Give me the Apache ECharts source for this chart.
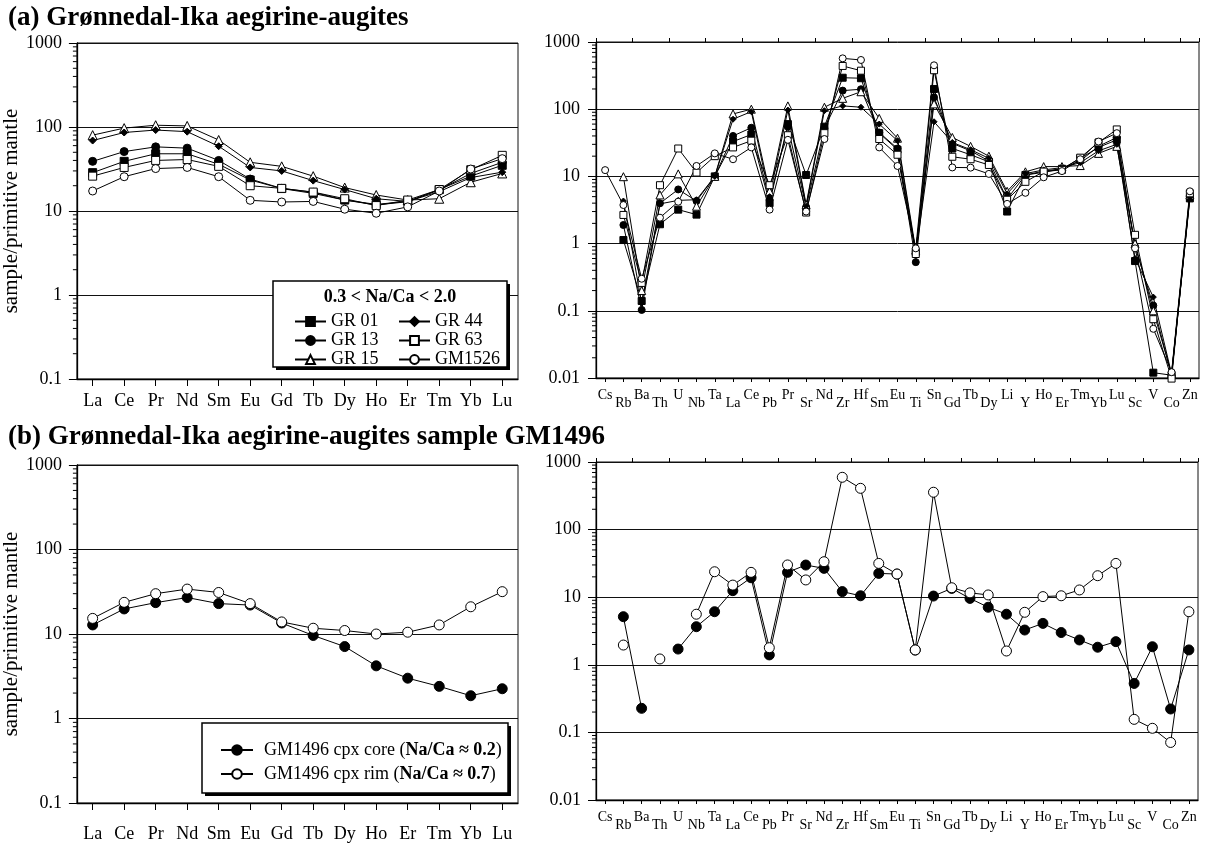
<!DOCTYPE html>
<html>
<head>
<meta charset="utf-8">
<script src="https://cdn.jsdelivr.net/npm/echarts@6/dist/echarts.min.js"></script>
<style>
  html, body { margin: 0; padding: 0; background: #fff; }
  #chart { width: 1217px; height: 845px; }
</style>
</head>
<body>
<div id="chart"></div>
<script>
// Rare earth elements (normalised to primitive mantle)
const REE = ['La','Ce','Pr','Nd','Sm','Eu','Gd','Tb','Dy','Ho','Er','Tm','Yb','Lu'];
// Extended trace element order
const TRACE = ['Cs','Rb','Ba','Th','U','Nb','Ta','La','Ce','Pb','Pr','Sr','Nd','Zr','Hf','Sm','Eu',
               'Ti','Sn','Gd','Tb','Dy','Li','Y','Ho','Er','Tm','Yb','Lu','Sc','V','Co','Zn'];

// (a) aegirine-augites, 0.3 < Na/Ca < 2.0 — REE
const GR01_REE   = [28.6, 39, 48, 48, 36, 23.4, 18.5, 16.2, 13.5, 12.0, 13.0, 18.0, 26, 35];
const GR13_REE   = [39, 51, 58, 56, 40, 24, 18.6, 16.7, 13.5, 11.8, 12.9, 17.8, 28, 38];
const GR15_REE   = [80, 97, 105, 103, 70, 38, 34, 26, 19, 15.5, 13.5, 14, 22, 28];
const GR44_REE   = [69, 86, 92, 88, 59, 33, 30, 23, 18, 14, 13, 17, 25, 29];
const GR63_REE   = [26, 33, 40, 41, 34, 20, 18.6, 16.8, 14, 11.6, 13.5, 18, 31, 46];
const GM1526_REE = [17.3, 25.6, 32, 33, 25.6, 13.4, 12.8, 13, 10.5, 9.4, 11.2, 17.3, 31.6, 42];

// (a) aegirine-augites — extended trace elements
const GR01_TR   = [null, 1.13, 0.14, 1.94, 3.2, 2.7, 10, 33, 42, 4.0, 60, 10.5, 55, 294, 289, 44, 25,
                   0.75, 200, 26, 21, 16.5, 3.0, 10.5, 11.5, 13, 18.5, 27, 35, 0.55, 0.012, 0.011, 4.7];
const GR13_TR   = [null, 1.89, 0.103, 3.98, 6.4, 4.3, 10, 40, 53, 4.5, 55, 3.5, 52, 189, 198, 45, 26,
                   0.53, 150, 31, 24, 17, 4.6, 10.5, 12, 13, 17, 28, 38, 0.9, 0.12, 0.011, 5.0];
const GR15_TR   = [null, 9.9, 0.2, 5.3, 10.9, 3.6, 10, 85, 100, 6.0, 112, 3.8, 107, 145, 182, 73, 37,
                   0.8, 120, 38, 28, 20, 6.0, 11.7, 14, 14, 14.5, 22, 28, 1.0, 0.1, 0.0115, 5.3];
const GR44_TR   = [null, 4.3, 0.13, 3.9, 4.4, 4.5, 10, 71, 92, 5.0, 97, 3.6, 95, 112, 107, 60, 34,
                   0.72, 65, 32, 25, 18.6, 5.5, 11, 12.5, 13.5, 16, 24, 30, 0.6, 0.16, 0.0115, 4.9];
const GR63_TR   = [null, 2.67, 0.26, 7.4, 26, 11.4, 20, 27, 34, 7.4, 41, 2.9, 44, 440, 374, 36, 21,
                   0.70, 380, 19.6, 18, 14.8, 4.5, 8.3, 11.8, 12.5, 19, 32, 50, 1.35, 0.075, 0.0098, 5.6];
const GM1526_TR = [12.4, 3.75, 0.30, 2.43, 4.2, 14.3, 22, 18, 27, 3.2, 35, 3.0, 36, 571, 540, 27, 14.3,
                   0.85, 450, 13.6, 13.5, 10.9, 3.9, 5.7, 9.7, 12, 18, 33, 44, 0.85, 0.054, 0.0122, 6.0];

// (b) sample GM1496, core and rim
const CORE_REE = [12.8, 19.8, 23.5, 27, 22.9, 22, 13.5, 9.6, 7.1, 4.2, 3.0, 2.4, 1.86, 2.25];
const RIM_REE  = [15.3, 23.7, 30, 34, 31, 22.9, 13.9, 11.7, 11.0, 10, 10.5, 12.8, 21, 31.7];
const CORE_TR  = [null, 5.15, 0.227, null, 1.71, 3.66, 6.1, 12.5, 19.4, 1.4, 23.3, 29.9, 26.7, 12.1, 10.5, 22.5, 22,
                  1.65, 10.4, 13.5, 9.6, 7.1, 5.6, 3.27, 4.1, 3.0, 2.33, 1.82, 2.2, 0.53, 1.85, 0.222, 1.66];
const RIM_TR   = [null, 1.96, null, 1.22, null, 5.6, 23.8, 15.1, 23.3, 1.79, 30, 18, 33.5, 594, 408, 31.6, 22,
                  1.66, 357, 13.8, 11.6, 10.8, 1.6, 5.98, 10.2, 10.5, 12.8, 20.8, 31.6, 0.156, 0.115, 0.071, 6.1];

const GM1496_NAMES = ['GM1496 cpx core', 'GM1496 cpx rim'];
const GM1496_NACA  = ['0.2', '0.7'];

// Log-axis minor tick multipliers within each decade
const MINOR = [2, 3, 4, 5, 6, 7, 8, 9];
const DECADES_A = [0.1, 1, 10, 100];
const DECADES_B = [0.01, 0.1, 1, 10, 100];

const SERIF = 'Liberation Serif';
const BLACK = '#000';

const chart = echarts.init(document.getElementById('chart'), null, { renderer: 'canvas' });

const logFmt = v => String(+Number(v).toPrecision(3));

function yLog(gridIndex, min, labelMargin, name) {
  const ax = {
    type: 'log', logBase: 10, gridIndex, min, max: 1000,
    axisLine: { show: true, lineStyle: { color: BLACK, width: 1.3 } },
    axisTick: { show: true, inside: false, length: 8, lineStyle: { color: BLACK, width: 1 } },
    axisLabel: { color: BLACK, fontFamily: SERIF, fontSize: 18, margin: labelMargin, formatter: logFmt },
    splitLine: { show: true, lineStyle: { color: '#111', width: 1 } }
  };
  if (name) {
    ax.name = name;
    ax.nameLocation = 'middle';
    ax.nameGap = 39;
    ax.nameTextStyle = { color: BLACK, fontFamily: SERIF, fontSize: 21 };
  }
  return ax;
}

function xRee(gridIndex, labelMargin) {
  return {
    type: 'category', gridIndex, data: REE, boundaryGap: true,
    axisLine: { show: true, lineStyle: { color: BLACK, width: 1.3 } },
    axisTick: { show: true, alignWithLabel: true, inside: false, length: 7, lineStyle: { color: BLACK } },
    axisLabel: { interval: 0, color: BLACK, fontFamily: SERIF, fontSize: 18, margin: labelMargin },
    splitLine: { show: false }
  };
}

function xTrace(gridIndex, labelMargin) {
  return {
    type: 'category', gridIndex, data: TRACE, boundaryGap: true,
    axisLine: { show: true, lineStyle: { color: BLACK, width: 1.3 } },
    axisTick: { show: true, alignWithLabel: true, inside: false, length: 4, lineStyle: { color: BLACK } },
    axisLabel: {
      interval: 0, color: BLACK, fontFamily: SERIF, fontSize: 14, margin: labelMargin, hideOverlap: false,
      formatter: (v, i) => (i % 2 === 0 ? '{u|' + v + '}' : '{d|' + v + '}'),
      rich: {
        u: { fontFamily: SERIF, fontSize: 14, color: BLACK, padding: [0, 0, 0, 0] },
        d: { fontFamily: SERIF, fontSize: 14, color: BLACK, padding: [8, 0, 0, 0] }
      }
    },
    splitLine: { show: false }
  };
}

// Companion axis that only adds ticks between element positions
function xTraceBetween(gridIndex) {
  return {
    type: 'category', gridIndex, data: TRACE, boundaryGap: true,
    axisLine: { show: false },
    axisTick: { show: true, alignWithLabel: false, inside: false, length: 4, lineStyle: { color: BLACK } },
    axisLabel: { show: false },
    splitLine: { show: false }
  };
}

function minorTicks(xi, yi, decades) {
  const data = [];
  decades.forEach(d => MINOR.forEach(m => data.push([0, m * d])));
  return {
    type: 'custom', xAxisIndex: xi, yAxisIndex: yi, silent: true, z: 5, clip: false,
    data, encode: { x: 0, y: 1 },
    renderItem: (params, api) => {
      const y = api.coord([0, api.value(1)])[1];
      const x = params.coordSys.x;
      return { type: 'line', shape: { x1: x - 4, y1: y, x2: x, y2: y },
               style: { stroke: BLACK, lineWidth: 1 } };
    }
  };
}

const filled = { color: BLACK, borderColor: BLACK, borderWidth: 1 };
const open = { color: '#fff', borderColor: BLACK, borderWidth: 1 };
const lineStyle = { color: BLACK, width: 1 };

const SAMPLES = [
  { name: 'GR 01',  ree: GR01_REE,   tr: GR01_TR,   symbol: 'rect',     size: 8, item: filled },
  { name: 'GR 13',  ree: GR13_REE,   tr: GR13_TR,   symbol: 'circle',   size: 8, item: filled },
  { name: 'GR 15',  ree: GR15_REE,   tr: GR15_TR,   symbol: 'triangle', size: 9, item: open },
  { name: 'GR 44',  ree: GR44_REE,   tr: GR44_TR,   symbol: 'diamond',  size: 7, item: filled },
  { name: 'GR 63',  ree: GR63_REE,   tr: GR63_TR,   symbol: 'rect',     size: 8, item: open },
  { name: 'GM1526', ree: GM1526_REE, tr: GM1526_TR, symbol: 'circle',   size: 8, item: open }
];

const series = [];
SAMPLES.forEach(s => {
  series.push({
    name: s.name, type: 'line', xAxisIndex: 0, yAxisIndex: 0, data: s.ree,
    symbol: s.symbol, symbolSize: s.size, showAllSymbol: true, itemStyle: s.item, lineStyle,
    emphasis: { disabled: true }, animation: false, z: 3
  });
  series.push({
    name: s.name, type: 'line', xAxisIndex: 1, yAxisIndex: 1, data: s.tr,
    symbol: s.symbol, symbolSize: s.size - 1, showAllSymbol: true, itemStyle: s.item, lineStyle,
    connectNulls: false, clip: false, emphasis: { disabled: true }, animation: false, z: 3
  });
});

[[CORE_REE, CORE_TR, filled], [RIM_REE, RIM_TR, open]].forEach((d, k) => {
  series.push({
    name: GM1496_NAMES[k], type: 'line', xAxisIndex: 3, yAxisIndex: 2, data: d[0],
    symbol: 'circle', symbolSize: 10, showAllSymbol: true, itemStyle: d[2], lineStyle,
    emphasis: { disabled: true }, animation: false, z: 3
  });
  series.push({
    name: GM1496_NAMES[k], type: 'line', xAxisIndex: 4, yAxisIndex: 3, data: d[1],
    symbol: 'circle', symbolSize: 10, showAllSymbol: true, itemStyle: d[2], lineStyle,
    connectNulls: false, emphasis: { disabled: true }, animation: false, z: 3
  });
});

series.push(minorTicks(0, 0, DECADES_A));
series.push(minorTicks(1, 1, DECADES_B));
series.push(minorTicks(3, 2, DECADES_A));
series.push(minorTicks(4, 3, DECADES_B));

const legendText = { color: BLACK, fontFamily: SERIF, fontSize: 18, lineHeight: 19 };
const titleText = { fontFamily: SERIF, fontWeight: 'bold', fontSize: 27, color: BLACK };

const option = {
  animation: false,
  backgroundColor: '#fff',
  title: [
    { text: '(a) Grønnedal-Ika aegirine-augites', left: 8, top: 5, padding: 0, textStyle: titleText },
    { text: '(b) Grønnedal-Ika aegirine-augites sample GM1496', left: 8, top: 424, padding: 0, textStyle: titleText }
  ],
  grid: [
    { left: 76,  top: 43,  width: 442, height: 336, show: true, borderColor: '#111', borderWidth: 1, containLabel: false },
    { left: 596, top: 42,  width: 603, height: 336, show: true, borderColor: '#111', borderWidth: 1, containLabel: false },
    { left: 76,  top: 465, width: 442, height: 338, show: true, borderColor: '#111', borderWidth: 1, containLabel: false },
    { left: 596, top: 462, width: 602, height: 338, show: true, borderColor: '#111', borderWidth: 1, containLabel: false }
  ],
  xAxis: [
    xRee(0, 13),
    xTrace(1, 10),
    xTraceBetween(1),
    xRee(2, 22),
    xTrace(3, 10),
    xTraceBetween(3)
  ],
  yAxis: [
    yLog(0, 0.1, 15, 'sample/primitive mantle'),
    yLog(1, 0.01, 16),
    yLog(2, 0.1, 15, 'sample/primitive mantle'),
    yLog(3, 0.01, 15)
  ],
  legend: [
    { data: ['GR 01', 'GR 13', 'GR 15'], orient: 'vertical', left: 289, top: 307, z: 60,
      itemWidth: 31, itemHeight: 11, itemGap: 0, textStyle: legendText, selectedMode: false },
    { data: ['GR 44', 'GR 63', 'GM1526'], orient: 'vertical', left: 393, top: 307, z: 60,
      itemWidth: 31, itemHeight: 11, itemGap: 0, textStyle: legendText, selectedMode: false },
    { data: GM1496_NAMES, orient: 'vertical', left: 215, top: 735, z: 60,
      itemWidth: 32, itemHeight: 12, itemGap: 4, selectedMode: false,
      formatter: name => name + ' ({b|Na/Ca ≈ ' + GM1496_NACA[GM1496_NAMES.indexOf(name)] + '})',
      textStyle: { color: BLACK, fontFamily: SERIF, fontSize: 18, lineHeight: 20, padding: [0, 0, 0, 6],
        rich: { b: { fontFamily: SERIF, fontSize: 18, fontWeight: 'bold', color: BLACK } } } }
  ],
  graphic: [
    { type: 'rect', z: 50, shape: { x: 276, y: 284, width: 234, height: 86 }, style: { fill: BLACK } },
    { type: 'rect', z: 51, shape: { x: 273, y: 281, width: 234, height: 86 },
      style: { fill: '#fff', stroke: BLACK, lineWidth: 1.5 } },
    { type: 'text', z: 52, x: 390, y: 297,
      style: { text: '0.3 < Na/Ca < 2.0', fontFamily: SERIF, fontSize: 18, fontWeight: 'bold',
               fill: BLACK, align: 'center', verticalAlign: 'middle' } },
    { type: 'rect', z: 50, shape: { x: 205, y: 726, width: 306, height: 70 }, style: { fill: BLACK } },
    { type: 'rect', z: 51, shape: { x: 202, y: 723, width: 306, height: 70 },
      style: { fill: '#fff', stroke: BLACK, lineWidth: 1.5 } }
  ],
  series
};

chart.setOption(option);
</script>
</body>
</html>
